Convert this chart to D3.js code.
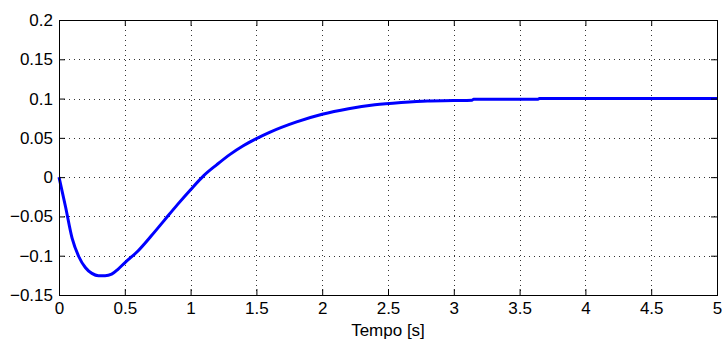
<!DOCTYPE html>
<html><head><meta charset="utf-8">
<script src="https://cdn.jsdelivr.net/npm/d3@7"></script>
<style>
html,body{margin:0;padding:0;background:#fff;}
svg{display:block;font-family:"Liberation Sans",Arial,Helvetica,sans-serif;}
</style></head>
<body>
<svg id="chart" width="728" height="345"></svg>
<script>
const timeValues = [0, 0.05, 0.1, 0.15, 0.2, 0.25, 0.3, 0.35, 0.4, 0.45, 0.5, 0.6, 0.7, 0.8, 0.9, 1.0, 1.1, 1.2, 1.3, 1.4, 1.5, 1.6, 1.8, 2.0, 2.2, 2.4, 2.6, 2.8, 3.0, 3.14, 3.15, 3.64, 3.65, 4.0, 5.0];
const responseValues = [0, -0.038, -0.078, -0.101, -0.115, -0.1225, -0.1255, -0.1255, -0.1235, -0.117, -0.109, -0.094, -0.075, -0.055, -0.035, -0.016, 0.002, 0.016, 0.029, 0.040, 0.049, 0.057, 0.070, 0.080, 0.087, 0.092, 0.095, 0.097, 0.0975, 0.098, 0.099, 0.099, 0.1, 0.1, 0.1];
const xTicks = [0, 0.5, 1, 1.5, 2, 2.5, 3, 3.5, 4, 4.5, 5];
const yTicks = [-0.15, -0.1, -0.05, 0, 0.05, 0.1, 0.15, 0.2];
const xLabel = "Tempo [s]";

const svg = d3.select("#chart");
const m = {left: 59, right: 717, top: 20, bottom: 295};
const x = d3.scaleLinear().domain([0, 5]).range([m.left, m.right]);
const y = d3.scaleLinear().domain([-0.15, 0.2]).range([m.bottom, m.top]);
const fmt = v => (v < 0 ? "\u2212" : "") + String(+Math.abs(v).toFixed(2));
const FS = 17;

// grid
const grid = svg.append("g").attr("stroke", "#333").attr("stroke-width", 1).attr("stroke-dasharray", "1,4");
grid.selectAll(".gx").data(xTicks.slice(1, -1)).join("line")
  .attr("x1", d => Math.round(x(d)) + 0.5).attr("x2", d => Math.round(x(d)) + 0.5)
  .attr("y1", m.top).attr("y2", m.bottom);
grid.selectAll(".gy").data(yTicks.slice(1, -1)).join("line")
  .attr("y1", d => Math.round(y(d)) + 0.5).attr("y2", d => Math.round(y(d)) + 0.5)
  .attr("x1", m.left).attr("x2", m.right);

// curve
const pts = timeValues.map((t, i) => [t, responseValues[i]]);
svg.append("path").datum(pts)
  .attr("fill", "none").attr("stroke", "#0000ff").attr("stroke-width", 3)
  .attr("stroke-linejoin", "round")
  .attr("d", d3.line().x(d => x(d[0])).y(d => y(d[1])).curve(d3.curveMonotoneX));

// axes with inward ticks
const tl = 6;
const axB = svg.append("g").attr("transform", `translate(0,${m.bottom})`)
  .call(d3.axisBottom(x).tickValues(xTicks).tickSizeInner(-tl).tickSizeOuter(0).tickPadding(7).tickFormat(fmt));
const axT = svg.append("g").attr("transform", `translate(0,${m.top})`)
  .call(d3.axisTop(x).tickValues(xTicks).tickSizeInner(-tl).tickSizeOuter(0).tickFormat(""));
const axL = svg.append("g").attr("transform", `translate(${m.left},0)`)
  .call(d3.axisLeft(y).tickValues(yTicks).tickSizeInner(-tl).tickSizeOuter(0).tickPadding(6).tickFormat(fmt));
const axR = svg.append("g").attr("transform", `translate(${m.right},0)`)
  .call(d3.axisRight(y).tickValues(yTicks).tickSizeInner(-tl).tickSizeOuter(0).tickFormat(""));
[axB, axT, axL, axR].forEach(a => {
  a.select(".domain").remove();
  a.selectAll("line").attr("stroke", "#000");
  a.selectAll("text").attr("font-size", FS).attr("fill", "#000").attr("font-family", "Liberation Sans, Arial, sans-serif");
});
axB.selectAll("text").attr("dy", "0.71em");

// frame
svg.append("rect").attr("x", m.left + 0.5).attr("y", m.top + 0.5)
  .attr("width", m.right - m.left).attr("height", m.bottom - m.top)
  .attr("fill", "none").attr("stroke", "#000").attr("stroke-width", 1);

svg.append("text").attr("x", (m.left + m.right) / 2).attr("y", 336)
  .attr("text-anchor", "middle").attr("font-size", FS).attr("fill", "#000").text(xLabel);
</script>
</body></html>
